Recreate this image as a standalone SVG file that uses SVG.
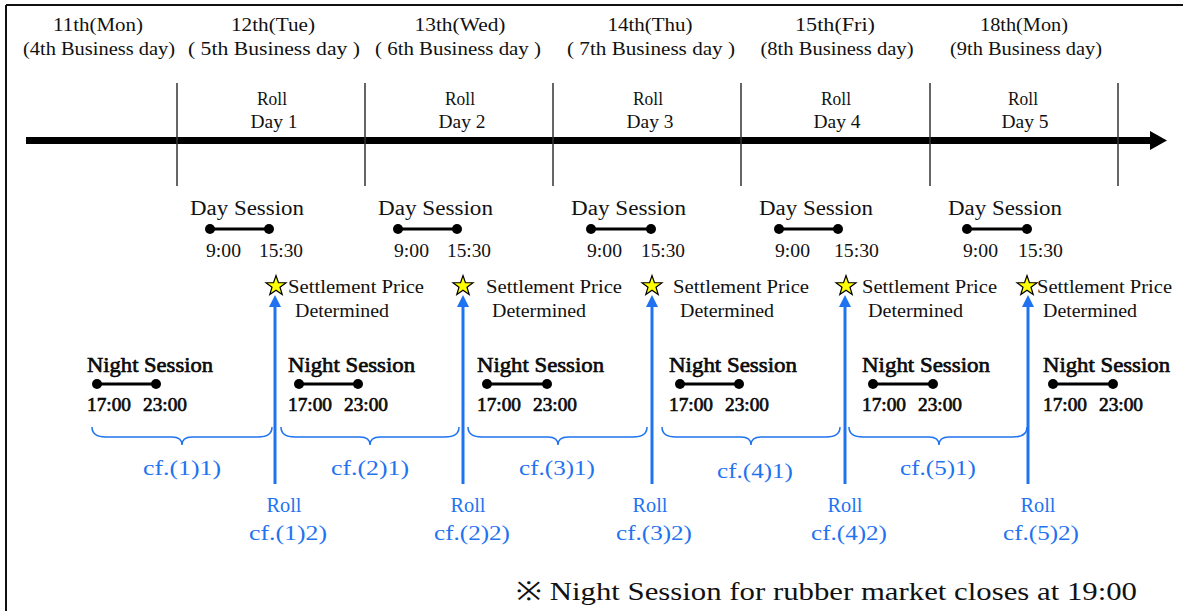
<svg xmlns="http://www.w3.org/2000/svg" width="1186" height="611" viewBox="0 0 1186 611">
<style>
text{font-family:"Liberation Serif","DejaVu Serif",serif;fill:#111;}
.hd{font-size:18px;text-anchor:middle;}
.rd{font-size:18px;text-anchor:middle;}
.ds{font-size:20px;}
.tm{font-size:18px;}
.sp{font-size:18px;}
.ns{font-size:21px;stroke:#000;stroke-width:0.6;}
.nt{font-size:18px;stroke:#000;stroke-width:0.6;}
.bl{font-size:20px;fill:#1f73f0;text-anchor:middle;}
.note{font-size:26px;}
.frame{stroke:#111;stroke-width:2;fill:none;}
.vl{stroke:#333;stroke-width:1.5;}
.seg{stroke:#000;stroke-width:3;}
.dot{fill:#000;}
.brace{fill:none;stroke:#1f73f0;stroke-width:1.5;}
.barrow{stroke:#1f73f0;stroke-width:3;}
.bhead{fill:#1f73f0;}
.star{fill:#ffff00;stroke:#000;stroke-width:1.2;stroke-linejoin:miter;}
</style>
<defs>
<path id="star" d="M0,-10.5 L2.45,-3.4 L10,-3.25 L4,1.3 L6.2,8.5 L0,4.2 L-6.2,8.5 L-4,1.3 L-10,-3.25 L-2.45,-3.4 Z"/>
</defs>
<rect width="1186" height="611" fill="#fff"/>
<g id="frame">
<line class="frame" x1="6" y1="5" x2="1183" y2="5"/>
<line class="frame" x1="6" y1="5" x2="6" y2="611"/>
</g>
<g id="connectors">
<line x1="26" y1="140.5" x2="1151" y2="140.5" stroke="#000" stroke-width="7"/>
<polygon points="1150,131 1167,140.5 1150,150" fill="#000"/>
<line class="vl" x1="177" y1="83" x2="177" y2="186"/>
<line class="vl" x1="365" y1="83" x2="365" y2="186"/>
<line class="vl" x1="553" y1="83" x2="553" y2="186"/>
<line class="vl" x1="741" y1="83" x2="741" y2="186"/>
<line class="vl" x1="930" y1="83" x2="930" y2="186"/>
<line class="vl" x1="1118" y1="83" x2="1118" y2="186"/>
<g id="roll-arrows">
<line class="barrow" x1="275" y1="484" x2="275" y2="304"/><polygon class="bhead" points="269,307 275,295 281,307"/>
<line class="barrow" x1="463" y1="484" x2="463" y2="304"/><polygon class="bhead" points="457,307 463,295 469,307"/>
<line class="barrow" x1="652" y1="484" x2="652" y2="304"/><polygon class="bhead" points="646,307 652,295 658,307"/>
<line class="barrow" x1="845" y1="484" x2="845" y2="304"/><polygon class="bhead" points="839,307 845,295 851,307"/>
<line class="barrow" x1="1028" y1="484" x2="1028" y2="304"/><polygon class="bhead" points="1022,307 1028,295 1034,307"/>
</g>
</g>
<g id="header-11">
<text class="hd" x="98" y="31" textLength="90" lengthAdjust="spacingAndGlyphs">11th(Mon)</text>
<text class="hd" x="99" y="55" textLength="152" lengthAdjust="spacingAndGlyphs">(4th Business day)</text>
</g>
<g id="header-12">
<text class="hd" x="273" y="31" textLength="84" lengthAdjust="spacingAndGlyphs">12th(Tue)</text>
<text class="hd" x="274" y="55" textLength="172" lengthAdjust="spacingAndGlyphs">( 5th Business day )</text>
</g>
<g id="header-13">
<text class="hd" x="460" y="31" textLength="91" lengthAdjust="spacingAndGlyphs">13th(Wed)</text>
<text class="hd" x="458" y="55" textLength="166" lengthAdjust="spacingAndGlyphs">( 6th Business day )</text>
</g>
<g id="header-14">
<text class="hd" x="650" y="31" textLength="85" lengthAdjust="spacingAndGlyphs">14th(Thu)</text>
<text class="hd" x="651" y="55" textLength="168" lengthAdjust="spacingAndGlyphs">( 7th Business day )</text>
</g>
<g id="header-15">
<text class="hd" x="835" y="31" textLength="80" lengthAdjust="spacingAndGlyphs">15th(Fri)</text>
<text class="hd" x="837" y="55" textLength="153" lengthAdjust="spacingAndGlyphs">(8th Business day)</text>
</g>
<g id="header-18">
<text class="hd" x="1024" y="31" textLength="88" lengthAdjust="spacingAndGlyphs">18th(Mon)</text>
<text class="hd" x="1026" y="55" textLength="152" lengthAdjust="spacingAndGlyphs">(9th Business day)</text>
</g>
<g id="roll-day-1"><text class="rd" x="272" y="105" textLength="30" lengthAdjust="spacingAndGlyphs">Roll</text><text class="rd" x="274" y="128" textLength="47" lengthAdjust="spacingAndGlyphs">Day 1</text></g>
<g id="roll-day-2"><text class="rd" x="460" y="105" textLength="30" lengthAdjust="spacingAndGlyphs">Roll</text><text class="rd" x="462" y="128" textLength="47" lengthAdjust="spacingAndGlyphs">Day 2</text></g>
<g id="roll-day-3"><text class="rd" x="648" y="105" textLength="30" lengthAdjust="spacingAndGlyphs">Roll</text><text class="rd" x="650" y="128" textLength="47" lengthAdjust="spacingAndGlyphs">Day 3</text></g>
<g id="roll-day-4"><text class="rd" x="836" y="105" textLength="30" lengthAdjust="spacingAndGlyphs">Roll</text><text class="rd" x="837" y="128" textLength="47" lengthAdjust="spacingAndGlyphs">Day 4</text></g>
<g id="roll-day-5"><text class="rd" x="1023" y="105" textLength="30" lengthAdjust="spacingAndGlyphs">Roll</text><text class="rd" x="1025" y="128" textLength="47" lengthAdjust="spacingAndGlyphs">Day 5</text></g>

<g id="day-session-1">
<text class="ds" x="190" y="215" textLength="114" lengthAdjust="spacingAndGlyphs">Day Session</text>
<line class="seg" x1="210" y1="229" x2="269" y2="229"/><circle class="dot" cx="210" cy="229" r="5"/><circle class="dot" cx="269" cy="229" r="5"/>
<text class="tm" x="206" y="257" textLength="35" lengthAdjust="spacingAndGlyphs">9:00</text>
<text class="tm" x="259" y="257" textLength="44" lengthAdjust="spacingAndGlyphs">15:30</text>
</g>
<g id="day-session-2">
<text class="ds" x="378" y="215" textLength="115" lengthAdjust="spacingAndGlyphs">Day Session</text>
<line class="seg" x1="398" y1="229" x2="457" y2="229"/><circle class="dot" cx="398" cy="229" r="5"/><circle class="dot" cx="457" cy="229" r="5"/>
<text class="tm" x="394" y="257" textLength="35" lengthAdjust="spacingAndGlyphs">9:00</text>
<text class="tm" x="447" y="257" textLength="44" lengthAdjust="spacingAndGlyphs">15:30</text>
</g>
<g id="day-session-3">
<text class="ds" x="571" y="215" textLength="115" lengthAdjust="spacingAndGlyphs">Day Session</text>
<line class="seg" x1="591" y1="229" x2="651" y2="229"/><circle class="dot" cx="591" cy="229" r="5"/><circle class="dot" cx="651" cy="229" r="5"/>
<text class="tm" x="587" y="257" textLength="35" lengthAdjust="spacingAndGlyphs">9:00</text>
<text class="tm" x="641" y="257" textLength="44" lengthAdjust="spacingAndGlyphs">15:30</text>
</g>
<g id="day-session-4">
<text class="ds" x="759" y="215" textLength="114" lengthAdjust="spacingAndGlyphs">Day Session</text>
<line class="seg" x1="779" y1="229" x2="838" y2="229"/><circle class="dot" cx="779" cy="229" r="5"/><circle class="dot" cx="838" cy="229" r="5"/>
<text class="tm" x="775" y="257" textLength="35" lengthAdjust="spacingAndGlyphs">9:00</text>
<text class="tm" x="834" y="257" textLength="45" lengthAdjust="spacingAndGlyphs">15:30</text>
</g>
<g id="day-session-5">
<text class="ds" x="948" y="215" textLength="114" lengthAdjust="spacingAndGlyphs">Day Session</text>
<line class="seg" x1="967" y1="229" x2="1027" y2="229"/><circle class="dot" cx="967" cy="229" r="5"/><circle class="dot" cx="1027" cy="229" r="5"/>
<text class="tm" x="963" y="257" textLength="35" lengthAdjust="spacingAndGlyphs">9:00</text>
<text class="tm" x="1018" y="257" textLength="45" lengthAdjust="spacingAndGlyphs">15:30</text>
</g>

<g id="settlement-1"><use href="#star" class="star" x="276" y="286"/><text class="sp" x="288" y="293" textLength="136" lengthAdjust="spacingAndGlyphs">Settlement Price</text><text class="sp" x="295" y="317" textLength="94" lengthAdjust="spacingAndGlyphs">Determined</text></g>
<g id="settlement-2"><use href="#star" class="star" x="463" y="286"/><text class="sp" x="486" y="293" textLength="136" lengthAdjust="spacingAndGlyphs">Settlement Price</text><text class="sp" x="492" y="317" textLength="94" lengthAdjust="spacingAndGlyphs">Determined</text></g>
<g id="settlement-3"><use href="#star" class="star" x="652" y="286"/><text class="sp" x="673" y="293" textLength="136" lengthAdjust="spacingAndGlyphs">Settlement Price</text><text class="sp" x="680" y="317" textLength="94" lengthAdjust="spacingAndGlyphs">Determined</text></g>
<g id="settlement-4"><use href="#star" class="star" x="846" y="286"/><text class="sp" x="862" y="293" textLength="135" lengthAdjust="spacingAndGlyphs">Settlement Price</text><text class="sp" x="868" y="317" textLength="95" lengthAdjust="spacingAndGlyphs">Determined</text></g>
<g id="settlement-5"><use href="#star" class="star" x="1027" y="286"/><text class="sp" x="1037" y="293" textLength="135" lengthAdjust="spacingAndGlyphs">Settlement Price</text><text class="sp" x="1043" y="317" textLength="94" lengthAdjust="spacingAndGlyphs">Determined</text></g>

<g id="night-session-1">
<text class="ns" x="87" y="372" textLength="126" lengthAdjust="spacingAndGlyphs">Night Session</text>
<line class="seg" x1="97" y1="384" x2="156" y2="384"/><circle class="dot" cx="97" cy="384" r="5"/><circle class="dot" cx="156" cy="384" r="5"/>
<text class="nt" x="87" y="411" textLength="44" lengthAdjust="spacingAndGlyphs">17:00</text>
<text class="nt" x="143" y="411" textLength="44" lengthAdjust="spacingAndGlyphs">23:00</text>
</g>
<g id="night-session-2">
<text class="ns" x="288" y="372" textLength="127" lengthAdjust="spacingAndGlyphs">Night Session</text>
<line class="seg" x1="299" y1="384" x2="358" y2="384"/><circle class="dot" cx="299" cy="384" r="5"/><circle class="dot" cx="358" cy="384" r="5"/>
<text class="nt" x="288" y="411" textLength="44" lengthAdjust="spacingAndGlyphs">17:00</text>
<text class="nt" x="344" y="411" textLength="44" lengthAdjust="spacingAndGlyphs">23:00</text>
</g>
<g id="night-session-3">
<text class="ns" x="477" y="372" textLength="127" lengthAdjust="spacingAndGlyphs">Night Session</text>
<line class="seg" x1="487" y1="384" x2="547" y2="384"/><circle class="dot" cx="487" cy="384" r="5"/><circle class="dot" cx="547" cy="384" r="5"/>
<text class="nt" x="477" y="411" textLength="44" lengthAdjust="spacingAndGlyphs">17:00</text>
<text class="nt" x="533" y="411" textLength="44" lengthAdjust="spacingAndGlyphs">23:00</text>
</g>
<g id="night-session-4">
<text class="ns" x="669" y="372" textLength="128" lengthAdjust="spacingAndGlyphs">Night Session</text>
<line class="seg" x1="680" y1="384" x2="739" y2="384"/><circle class="dot" cx="680" cy="384" r="5"/><circle class="dot" cx="739" cy="384" r="5"/>
<text class="nt" x="669" y="411" textLength="44" lengthAdjust="spacingAndGlyphs">17:00</text>
<text class="nt" x="725" y="411" textLength="44" lengthAdjust="spacingAndGlyphs">23:00</text>
</g>
<g id="night-session-5">
<text class="ns" x="862" y="372" textLength="128" lengthAdjust="spacingAndGlyphs">Night Session</text>
<line class="seg" x1="873" y1="384" x2="933" y2="384"/><circle class="dot" cx="873" cy="384" r="5"/><circle class="dot" cx="933" cy="384" r="5"/>
<text class="nt" x="862" y="411" textLength="44" lengthAdjust="spacingAndGlyphs">17:00</text>
<text class="nt" x="918" y="411" textLength="44" lengthAdjust="spacingAndGlyphs">23:00</text>
</g>
<g id="night-session-6">
<text class="ns" x="1043" y="372" textLength="127" lengthAdjust="spacingAndGlyphs">Night Session</text>
<line class="seg" x1="1053" y1="384" x2="1113" y2="384"/><circle class="dot" cx="1053" cy="384" r="5"/><circle class="dot" cx="1113" cy="384" r="5"/>
<text class="nt" x="1043" y="411" textLength="44" lengthAdjust="spacingAndGlyphs">17:00</text>
<text class="nt" x="1099" y="411" textLength="44" lengthAdjust="spacingAndGlyphs">23:00</text>
</g>

<g id="brace-1"><path class="brace" d="M92,427 Q92,437 106,437 L172,437 Q182,437 182,445 Q182,437 192,437 L258,437 Q272,437 272,427"/><text class="bl" x="182" y="475" textLength="78" lengthAdjust="spacingAndGlyphs">cf.(1)1)</text></g>
<g id="brace-2"><path class="brace" d="M281,427 Q281,437 295,437 L360,437 Q370,437 370,445 Q370,437 380,437 L445,437 Q459,437 459,427"/><text class="bl" x="370" y="475" textLength="78" lengthAdjust="spacingAndGlyphs">cf.(2)1)</text></g>
<g id="brace-3"><path class="brace" d="M468,427 Q468,437 482,437 L548,437 Q558,437 558,445 Q558,437 568,437 L633,437 Q647,437 647,427"/><text class="bl" x="557" y="475" textLength="76" lengthAdjust="spacingAndGlyphs">cf.(3)1)</text></g>
<g id="brace-4"><path class="brace" d="M662,427 Q662,437 676,437 L741,437 Q751,437 751,445 Q751,437 761,437 L826,437 Q840,437 840,427"/><text class="bl" x="755" y="478" textLength="76" lengthAdjust="spacingAndGlyphs">cf.(4)1)</text></g>
<g id="brace-5"><path class="brace" d="M849,427 Q849,437 863,437 L929,437 Q939,437 939,445 Q939,437 949,437 L1013,437 Q1027,437 1027,427"/><text class="bl" x="938" y="475" textLength="76" lengthAdjust="spacingAndGlyphs">cf.(5)1)</text></g>

<g id="roll-1"><text class="bl" x="284" y="512" textLength="35" lengthAdjust="spacingAndGlyphs">Roll</text><text class="bl" x="288" y="540" textLength="78" lengthAdjust="spacingAndGlyphs">cf.(1)2)</text></g>
<g id="roll-2"><text class="bl" x="468" y="512" textLength="35" lengthAdjust="spacingAndGlyphs">Roll</text><text class="bl" x="472" y="540" textLength="76" lengthAdjust="spacingAndGlyphs">cf.(2)2)</text></g>
<g id="roll-3"><text class="bl" x="650" y="512" textLength="35" lengthAdjust="spacingAndGlyphs">Roll</text><text class="bl" x="654" y="540" textLength="76" lengthAdjust="spacingAndGlyphs">cf.(3)2)</text></g>
<g id="roll-4"><text class="bl" x="845" y="512" textLength="35" lengthAdjust="spacingAndGlyphs">Roll</text><text class="bl" x="849" y="540" textLength="76" lengthAdjust="spacingAndGlyphs">cf.(4)2)</text></g>
<g id="roll-5"><text class="bl" x="1038" y="512" textLength="35" lengthAdjust="spacingAndGlyphs">Roll</text><text class="bl" x="1041" y="540" textLength="76" lengthAdjust="spacingAndGlyphs">cf.(5)2)</text></g>

<g id="note"><text class="note" x="516" y="600" textLength="621" lengthAdjust="spacingAndGlyphs">※ Night Session for rubber market closes at 19:00</text></g>
</svg>
